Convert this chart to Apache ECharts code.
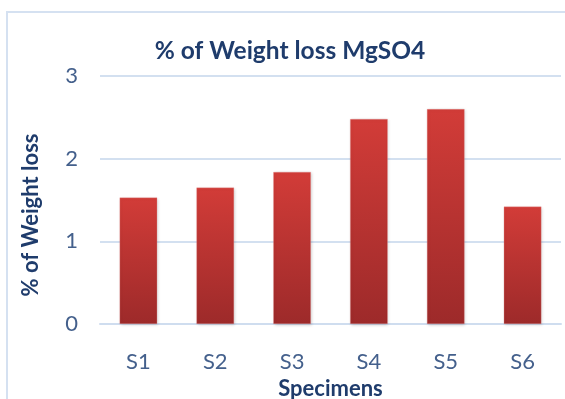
<!DOCTYPE html>
<html>
<head>
<meta charset="utf-8">
<script src="https://cdn.jsdelivr.net/npm/echarts@6/dist/echarts.min.js"></script>
<style>
  html, body { margin: 0; padding: 0; background: #fff; }
  #chart { width: 565px; height: 399px; }
</style>
</head>
<body>
<div id="chart"></div>
<script>
// Weight loss of specimens exposed to MgSO4
const specimens = ['S1', 'S2', 'S3', 'S4', 'S5', 'S6'];
const weightLoss = [1.53, 1.65, 1.84, 2.48, 2.60, 1.42];
const yTicks = { min: 0, max: 3, interval: 1 };

const navy = '#1F3C6C';
const tickColor = '#44608C';
const font = 'Lato';

const chart = echarts.init(document.getElementById('chart'), null, { renderer: 'canvas' });

chart.setOption({
  backgroundColor: '#ffffff',
  animation: false,
  graphic: [{
    type: 'rect',
    shape: { x: 7, y: 12, width: 700, height: 500 },
    style: { fill: 'none', stroke: '#D5E1F1', lineWidth: 2 },
    silent: true,
    z: -10
  }],
  title: {
    text: '% of Weight loss MgSO4',
    left: 285,
    top: 34,
    textAlign: 'center',
    textStyle: { fontFamily: font, fontWeight: 'bold', fontSize: 24.5, color: navy }
  },
  grid: { left: 100, right: 4, top: 76, bottom: 75, containLabel: false, outerBoundsMode: 'none' },
  xAxis: {
    type: 'category',
    data: specimens,
    name: 'Specimens',
    nameLocation: 'middle',
    nameGap: 54,
    nameTextStyle: { fontFamily: font, fontWeight: 'bold', fontSize: 22, color: navy },
    axisLine: { lineStyle: { color: '#CFDDEF', width: 2 } },
    axisTick: { show: false },
    axisLabel: { fontFamily: font, fontSize: 22, color: tickColor, margin: 27 }
  },
  yAxis: {
    type: 'value',
    min: yTicks.min,
    max: yTicks.max,
    interval: yTicks.interval,
    name: '% of Weight loss',
    nameLocation: 'middle',
    nameGap: 58,
    nameRotate: 90,
    nameTextStyle: { fontFamily: font, fontWeight: 'bold', fontSize: 22, color: navy, padding: [0, 30, 0, 0] },
    axisLine: { show: false },
    axisTick: { show: false },
    splitLine: { lineStyle: { color: '#D3E0F0', width: 2 } },
    axisLabel: { fontFamily: font, fontSize: 22, color: tickColor, margin: 22 }
  },
  series: [{
    type: 'bar',
    data: weightLoss,
    barWidth: '49%',
    itemStyle: {
      color: new echarts.graphic.LinearGradient(0, 0, 0, 1, [
        { offset: 0, color: '#D23C38' },
        { offset: 1, color: '#9D2A2A' }
      ]),
      borderColor: 'rgba(230,150,150,0.6)',
      borderWidth: 0.5,
      shadowColor: 'rgba(0,0,0,0.18)',
      shadowBlur: 3,
      shadowOffsetX: 1,
      shadowOffsetY: 1
    }
  }]
});
</script>
</body>
</html>
